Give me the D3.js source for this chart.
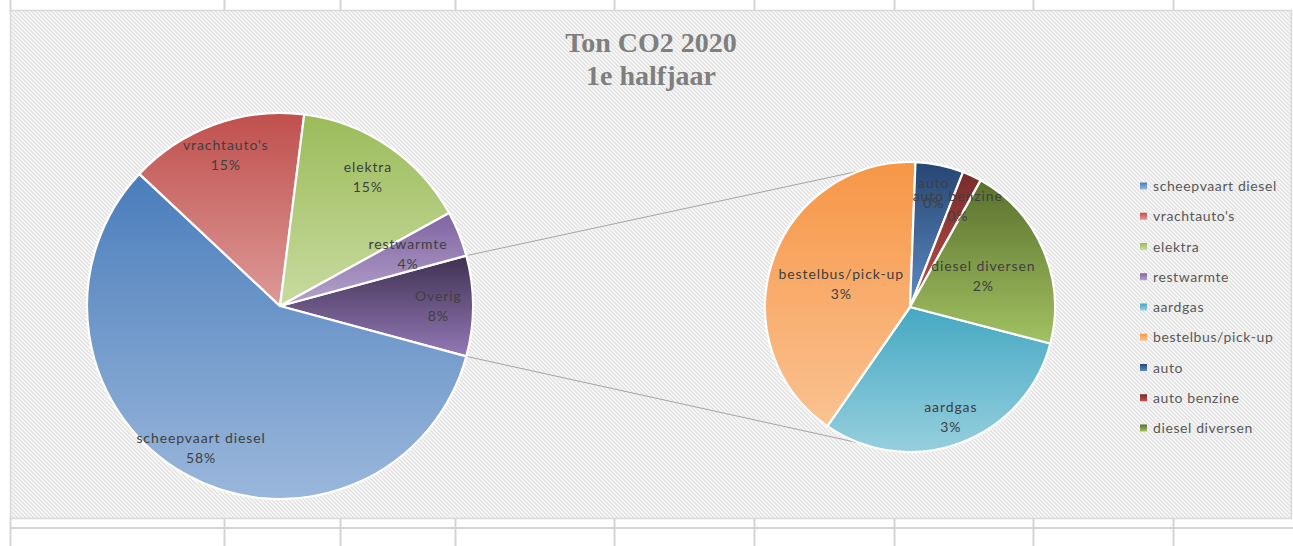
<!DOCTYPE html>
<html lang="nl">
<head>
<meta charset="UTF-8" />
<script src="https://d3js.org/d3.v7.min.js"></script>
<title>Ton CO2 2020 - 1e halfjaar</title>
<style>
  body { margin: 0; background: #fff; }
  svg { display: block; }
</style>
</head>
<body>
<svg width="1293" height="546"></svg>
<script>
// share of total ton CO2 (%), first half of 2020
const titleLines = ['Ton CO2 2020', '1e halfjaar'];
const mainCategories = ['scheepvaart diesel', "vrachtauto's", 'elektra', 'restwarmte'];
const mainValues = [57.8, 15.0, 15.0, 3.8];
const otherLabel = 'Overig';
const subCategories = ['aardgas', 'bestelbus/pick-up', 'auto', 'auto benzine', 'diesel diversen'];
const subValues = [2.57, 3.44, 0.45, 0.18, 1.76];

// colours: [top, bottom] of each slice gradient
const mainColors = [['#4A7DBB', '#9AB7DB'], ['#C0504D', '#DC9A98'], ['#9BBB59', '#C8DBA0'], ['#8064A2', '#B4A3CA']];
const otherColor = ['#3F3151', '#9479B6'];
const subColors = [['#45A8C2', '#96CFDE'], ['#F79646', '#FAC292'], ['#264672', '#5E8BC4'], ['#772C2A', '#C0504D'], ['#5A702D', '#A2C262']];

const svg = d3.select('svg');
const defs = svg.append('defs');

// spreadsheet grid behind the chart
const colLines = [10, 224, 340, 455, 614, 754, 894, 1033, 1173];
const sheet = svg.append('g').attr('stroke', '#D4D4D4');
sheet.selectAll('.ctop').data(colLines).join('line')
  .attr('x1', d => d + 0.5).attr('x2', d => d + 0.5).attr('y1', 0).attr('y2', 12)
  .attr('stroke-width', 2);
sheet.selectAll('.cbot').data(colLines).join('line')
  .attr('x1', d => d + 0.5).attr('x2', d => d + 0.5).attr('y1', 518).attr('y2', 546)
  .attr('stroke-width', 2);
sheet.append('line').attr('x1', 10).attr('x2', 1293).attr('y1', 528).attr('y2', 528).attr('stroke-width', 2);

// hatched chart background
const pat = defs.append('pattern').attr('id', 'hatch')
  .attr('patternUnits', 'userSpaceOnUse').attr('width', 4).attr('height', 4);
pat.append('rect').attr('width', 4).attr('height', 4).attr('fill', '#F8F8F8');
pat.append('path').attr('d', 'M-1,-1L5,5M-1,3L1,5M3,-1L5,1')
  .attr('stroke', '#DEDEDE').attr('stroke-width', 1.2);

svg.append('rect')
  .attr('x', 10.5).attr('y', 10.5).attr('width', 1281).attr('height', 508)
  .attr('fill', 'url(#hatch)').attr('stroke', '#D9D9D9').attr('stroke-width', 1.5);

// title
svg.append('text')
  .attr('x', 651).attr('y', 52)
  .attr('text-anchor', 'middle')
  .attr('font-family', '"Liberation Serif", serif').attr('font-weight', 'bold')
  .attr('font-size', 28).attr('fill', '#7F7F7F')
  .selectAll('tspan').data(titleLines).join('tspan')
  .attr('x', 651).attr('dy', (d, i) => (i ? 33 : 0))
  .text(d => d);

// gradient per slice
function grad(id, c) {
  const g = defs.append('linearGradient').attr('id', id)
    .attr('x1', 0).attr('y1', 0).attr('x2', 0).attr('y2', 1);
  g.append('stop').attr('offset', '0%').attr('stop-color', c[0]);
  g.append('stop').attr('offset', '100%').attr('stop-color', c[1]);
  return `url(#${id})`;
}

const otherValue = d3.sum(subValues);
const total = d3.sum(mainValues) + otherValue;

const mainData = mainCategories.map((name, i) => ({ name, value: mainValues[i], fill: grad('gm' + i, mainColors[i]) }));
mainData.push({ name: otherLabel, value: otherValue, fill: grad('gother', otherColor) });
const subData = subCategories.map((name, i) => ({ name, value: subValues[i], fill: grad('gs' + i, subColors[i]) }));

const fmt = d => Math.round((d / total) * 100) + '%';

// left pie: "Overig" centred at 3 o'clock
const leftC = [280, 306], leftR = 193;
const otherAngle = (2 * Math.PI * otherValue) / total;
const leftStart = Math.PI / 2 + otherAngle / 2;
const leftPie = d3.pie().sort(null).value(d => d.value)
  .startAngle(leftStart - otherAngle).endAngle(leftStart - otherAngle + 2 * Math.PI);
const leftArcs = leftPie([mainData[4], ...mainData.slice(0, 4)]);
const leftLabelR = { 'scheepvaart diesel': 0.84, "vrachtauto's": 0.83, elektra: 0.81, restwarmte: 0.715, Overig: 0.82 };

// right pie: breakdown of "Overig"
const rightC = [910, 307], rightR = 145;
const rightStart = (104.6 * Math.PI) / 180;
const rightPie = d3.pie().sort(null).value(d => d.value)
  .startAngle(rightStart).endAngle(rightStart + 2 * Math.PI);
const rightArcs = rightPie(subData);
const rightLabelR = { aardgas: 0.81, 'bestelbus/pick-up': 0.5, auto: 0.8, 'auto benzine': 0.77, 'diesel diversen': 0.55 };

// connector lines
const conn = svg.append('g').attr('stroke', '#A6A6A6').attr('stroke-width', 1);
const pairs = [
  [leftStart - otherAngle, (340 * Math.PI) / 180],
  [leftStart, (200 * Math.PI) / 180]
];
conn.selectAll('line').data(pairs).join('line')
  .attr('x1', d => leftC[0] + d3.pointRadial(d[0], leftR)[0])
  .attr('y1', d => leftC[1] + d3.pointRadial(d[0], leftR)[1])
  .attr('x2', d => rightC[0] + d3.pointRadial(d[1], rightR)[0])
  .attr('y2', d => rightC[1] + d3.pointRadial(d[1], rightR)[1]);

function drawPie(arcs, c, r, labelR) {
  const g = svg.append('g').attr('transform', `translate(${c[0]},${c[1]})`);
  const arc = d3.arc().innerRadius(0).outerRadius(r);
  g.selectAll('path').data(arcs).join('path')
    .attr('d', arc)
    .attr('fill', d => d.data.fill)
    .attr('stroke', '#fff').attr('stroke-width', 2.2).attr('stroke-linejoin', 'round');
  const lbl = g.selectAll('.lbl').data(arcs).join('text')
    .attr('class', 'lbl')
    .attr('transform', d => {
      const k = labelR[d.data.name];
      const p = d3.arc().innerRadius(r * k).outerRadius(r * k).centroid(d);
      return `translate(${p[0]},${p[1]})`;
    })
    .attr('text-anchor', 'middle')
    .attr('font-family', 'Lato, sans-serif').attr('font-size', 14)
    .attr('letter-spacing', 0.9).attr('fill', '#404040');
  lbl.append('tspan').attr('x', 0).attr('y', -5).text(d => d.data.name);
  lbl.append('tspan').attr('x', 0).attr('y', 15).text(d => fmt(d.data.value));
}
drawPie(leftArcs, leftC, leftR, leftLabelR);
drawPie(rightArcs, rightC, rightR, rightLabelR);

// legend
const legendItems = [...mainData.slice(0, 4), ...subData];
const legY = d3.scalePoint().domain(legendItems.map(d => d.name)).range([186, 428]);
const leg = svg.append('g');
const row = leg.selectAll('g').data(legendItems).join('g')
  .attr('transform', d => `translate(1140,${legY(d.name)})`);
row.append('rect').attr('x', 0).attr('y', -3.5).attr('width', 7).attr('height', 7)
  .attr('fill', d => d.fill);
row.append('text').attr('x', 13).attr('y', 5)
  .attr('font-family', 'Lato, sans-serif').attr('font-size', 14)
  .attr('letter-spacing', 0.6).attr('fill', '#595959')
  .text(d => d.name);
</script>
</body>
</html>
